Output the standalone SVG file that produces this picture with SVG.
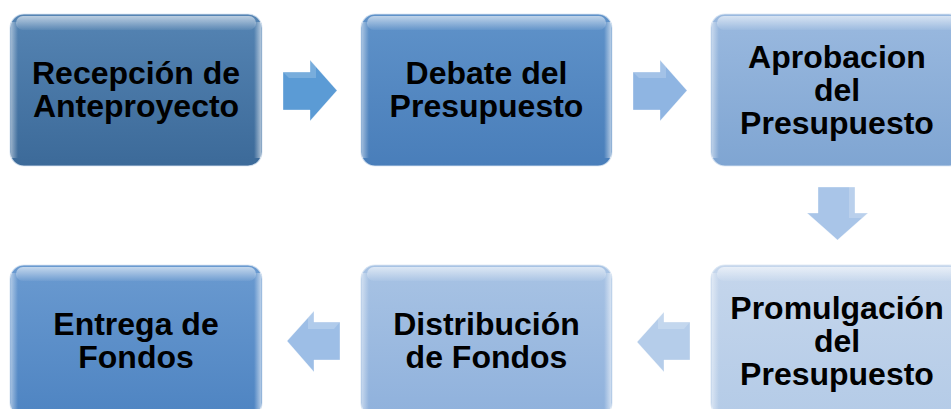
<svg xmlns="http://www.w3.org/2000/svg" width="951" height="409" viewBox="0 0 951 409">
<defs>
<linearGradient id="g1" x1="0" y1="0" x2="0" y2="1"><stop offset="0" stop-color="#5584b3"/><stop offset="1" stop-color="#3c6a99"/></linearGradient>
<linearGradient id="g2" x1="0" y1="0" x2="0" y2="1"><stop offset="0" stop-color="#5f92c9"/><stop offset="1" stop-color="#497eba"/></linearGradient>
<linearGradient id="g3" x1="0" y1="0" x2="0" y2="1"><stop offset="0" stop-color="#9ab9df"/><stop offset="1" stop-color="#7fa5d2"/></linearGradient>
<linearGradient id="g4" x1="0" y1="0" x2="0" y2="1"><stop offset="0" stop-color="#6a9ad0"/><stop offset="1" stop-color="#4e84c2"/></linearGradient>
<linearGradient id="g5" x1="0" y1="0" x2="0" y2="1"><stop offset="0" stop-color="#a8c3e4"/><stop offset="1" stop-color="#8fb1dc"/></linearGradient>
<linearGradient id="g6" x1="0" y1="0" x2="0" y2="1"><stop offset="0" stop-color="#c5d6ec"/><stop offset="1" stop-color="#b4cbe7"/></linearGradient>
<linearGradient id="hl" x1="0" y1="0" x2="0" y2="1"><stop offset="0" stop-color="#ffffff" stop-opacity="0.6"/><stop offset="1" stop-color="#ffffff" stop-opacity="0.05"/></linearGradient>
<linearGradient id="edgeL" x1="0" y1="0" x2="1" y2="0"><stop offset="0" stop-color="#ffffff" stop-opacity="0.45"/><stop offset="1" stop-color="#ffffff" stop-opacity="0"/></linearGradient>
<linearGradient id="edgeR" x1="1" y1="0" x2="0" y2="0"><stop offset="0" stop-color="#ffffff" stop-opacity="0.55"/><stop offset="1" stop-color="#ffffff" stop-opacity="0"/></linearGradient>
</defs>
<style>
.box{stroke:#dbe6f3;stroke-width:1.2;stroke-opacity:0.8}
.hl{fill:url(#hl)}
.el{fill:url(#edgeL)}
.er{fill:url(#edgeR)}
.t{font-family:"Liberation Sans",Arial,sans-serif;font-weight:bold;font-size:32px;fill:#000;text-anchor:middle}
.arw{stroke:#ffffff;stroke-opacity:0.35;stroke-width:1}
</style>

<g id="connectors">
<path class="arw" d="M283,72 H310 V60 L337,90.5 L310,121 V110 H283 Z" fill="#5b9bd5"/>
<path d="M283,72 H310 V60 L316,67 V78 H289 Z" fill="#ffffff" fill-opacity="0.18"/>
<path class="arw" d="M633,72 H660 V60 L687,90.5 L660,121 V110 H633 Z" fill="#8fb5e2"/>
<path d="M633,72 H660 V60 L666,67 V78 H639 Z" fill="#ffffff" fill-opacity="0.18"/>
<path class="arw" d="M818,187 H855 V213 H868 L837.5,240 L807,213 H818 Z" fill="#a9c5e8"/>
<path d="M849,187 H855 V213 H868 L862,218 H849 Z" fill="#ffffff" fill-opacity="0.2"/>
<path class="arw" d="M690,322 H664 V312 L637,342 L664,372 V360 H690 Z" fill="#b5cdea"/>
<path d="M690,322 H664 V312 L658,319 V329 H684 Z" fill="#ffffff" fill-opacity="0.2"/>
<path class="arw" d="M340,322 H314 V311 L287,341 L314,372 V360 H340 Z" fill="#9dbee6"/>
<path d="M340,322 H314 V311 L308,318 V329 H334 Z" fill="#ffffff" fill-opacity="0.2"/>
</g>

<g id="n1">
<rect class="box" x="10" y="14" width="252" height="152" rx="14" fill="url(#g1)"/>
<rect class="hl" x="16" y="16" width="240" height="14" rx="7"/>
<rect class="el" x="11" y="22" width="7" height="136"/>
<rect class="er" x="254" y="22" width="7" height="136"/>
<text class="t" x="136" y="84">Recepción de</text>
<text class="t" x="136" y="117">Anteproyecto</text>
</g>

<g id="n2">
<rect class="box" x="361" y="14" width="251" height="152" rx="14" fill="url(#g2)"/>
<rect class="hl" x="367" y="16" width="239" height="14" rx="7"/>
<rect class="el" x="362" y="22" width="7" height="136"/>
<rect class="er" x="604" y="22" width="7" height="136"/>
<text class="t" x="486.5" y="84">Debate del</text>
<text class="t" x="486.5" y="117">Presupuesto</text>
</g>

<g id="n3">
<rect class="box" x="711" y="14" width="252" height="152" rx="14" fill="url(#g3)"/>
<rect class="hl" x="717" y="16" width="240" height="14" rx="7"/>
<rect class="el" x="712" y="22" width="7" height="136"/>
<text class="t" x="837" y="68">Aprobacion</text>
<text class="t" x="837" y="101">del</text>
<text class="t" x="837" y="134">Presupuesto</text>
</g>

<g id="n4">
<rect class="box" x="711" y="265" width="252" height="152" rx="14" fill="url(#g6)"/>
<rect class="hl" x="717" y="267" width="240" height="14" rx="7"/>
<rect class="el" x="712" y="273" width="7" height="136"/>
<text class="t" x="837" y="319">Promulgación</text>
<text class="t" x="837" y="352">del</text>
<text class="t" x="837" y="385">Presupuesto</text>
</g>

<g id="n5">
<rect class="box" x="361" y="265" width="251" height="152" rx="14" fill="url(#g5)"/>
<rect class="hl" x="367" y="267" width="239" height="14" rx="7"/>
<rect class="el" x="362" y="273" width="7" height="136"/>
<rect class="er" x="604" y="273" width="7" height="136"/>
<text class="t" x="486.5" y="335">Distribución</text>
<text class="t" x="486.5" y="368">de Fondos</text>
</g>

<g id="n6">
<rect class="box" x="10" y="265" width="252" height="152" rx="14" fill="url(#g4)"/>
<rect class="hl" x="16" y="267" width="240" height="14" rx="7"/>
<rect class="el" x="11" y="273" width="7" height="136"/>
<rect class="er" x="254" y="273" width="7" height="136"/>
<text class="t" x="136" y="335">Entrega de</text>
<text class="t" x="136" y="368">Fondos</text>
</g>
</svg>
